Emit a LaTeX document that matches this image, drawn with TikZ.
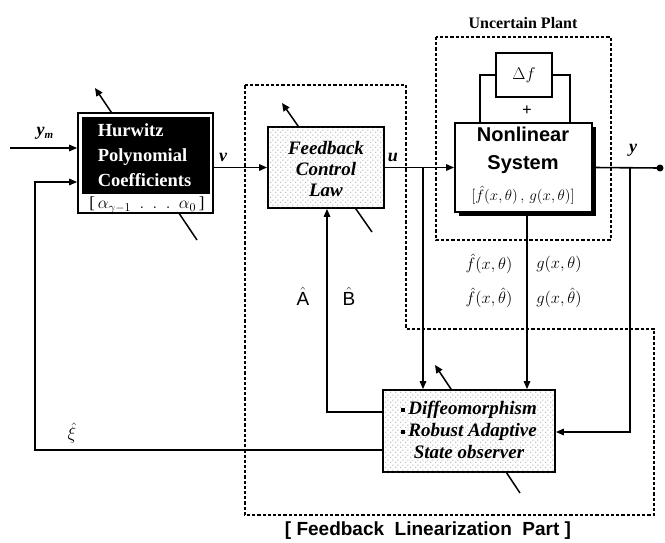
\RequirePackage{fix-cm}
\documentclass[tikz,border=0pt]{standalone}
\usepackage{fontspec}
\setmainfont{Liberation Serif}
\setsansfont{Liberation Sans}
\usetikzlibrary{arrows.meta,patterns.meta}
\tikzdeclarepattern{name=sdots, type=uncolored, bounding box={(0,0) and (5pt,5pt)}, tile size={(5pt,5pt)},
  code={\fill (1pt,1pt) circle (0.55pt); \fill (3.5pt,3.5pt) circle (0.55pt);}}
\begin{document}
\begin{tikzpicture}[x=1pt,y=-1pt,line width=1.6pt,
  arr/.style={-{Triangle[length=8pt,width=6.5pt]}},
  adj/.style={line width=1.5pt,-{Triangle[length=8pt,width=7pt]}},
  blk/.style={draw,line width=1.8pt,rectangle,inner sep=0pt},
  dotted box/.style={blk,fill=white,postaction={pattern=sdots,pattern color=black!70}},
  dashbox/.style={line width=1.4pt,dash pattern=on 3.2pt off 2pt},
  lab/.style={inner sep=0pt,font=\bfseries\itshape\fontsize{18}{20}\selectfont},
  ital/.style={inner sep=0pt,font=\fontsize{16.5}{18}\selectfont}]
\useasboundingbox (0,0) rectangle (665,543);

% dashed regions
\draw[dashbox] (245,85) -- (406,85) -- (406,329) -- (654,329) -- (654,515) -- (245,515) -- cycle;
\draw[dashbox] (436,37) rectangle (611,240);
\node[inner sep=0pt,font=\bfseries\fontsize{16}{18}\selectfont] (uplab) at (523,23) {Uncertain Plant};
\node[inner sep=0pt,font=\sffamily\bfseries\fontsize{19}{22}\selectfont] (fllab) at (428,531) {[ Feedback\ \ Linearization\ \ Part ]};

% adjustment arrows (behind boxes)
\draw[adj] (197,240) -- (95,88);
\draw[adj] (372,232) -- (282,103);
\draw[adj] (520,493) -- (435,365);

% Hurwitz block
\node[blk,fill=white,minimum width=135pt,minimum height=100pt] (hur) at (145.5,163) {};
\fill (82,117) rectangle (210,194);
\node[inner sep=0pt,text=white,align=left,anchor=west,font=\bfseries\fontsize{18.5}{25}\selectfont] (hurtxt) at (97,155) {Hurwitz\\Polynomial\\Coefficients};
\node[inner sep=0pt,font=\fontsize{17}{18}\selectfont] (alpha) at (147,205) {[\,$\alpha_{\gamma-1}\ \ .\ \ .\ \ .\ \ \alpha_0$\,]};

% Feedback control law
\node[dotted box,minimum width=116pt,minimum height=81pt] (fb) at (326,167.5) {};
\node[inner sep=0pt,align=center,font=\bfseries\itshape\fontsize{19}{21}\selectfont] (fbtxt) at (326,169) {Feedback\\Control\\Law};

% Nonlinear system with shadow
\fill (459,127) rectangle (596,216);
\node[blk,fill=white,minimum width=137pt,minimum height=89pt] (nl) at (523.5,167.5) {};
\node[inner sep=0pt,font=\sffamily\bfseries\fontsize{20}{22}\selectfont] (nl1) at (523,134) {Nonlinear};
\node[inner sep=0pt,font=\sffamily\bfseries\fontsize{20}{22}\selectfont] (nl2) at (523,165) {System};
\node[inner sep=0pt,font=\fontsize{15}{18}\selectfont] (nl3) at (523,195) {$[\hat f(x,\theta)\,,\,g(x,\theta)]$};

% Delta f
\node[blk,fill=white,minimum width=56pt,minimum height=44pt,font=\fontsize{17}{20}\selectfont] (df) at (524,75) {$\Delta f$};
\node[inner sep=0pt,font=\bfseries\fontsize{17}{18}\selectfont] (plus) at (527,111) {+};
\coordinate (l1) at (480,75);
\coordinate (l2) at (570,75);
\draw (nl.north -| l1) -- (l1) -- (df.west);
\draw (df.east) -- (l2) -- (l2 |- nl.north);

% Observer
\node[dotted box,minimum width=172pt,minimum height=82pt] (obs) at (469,431) {};
\node[inner sep=0pt,align=center,font=\bfseries\itshape\fontsize{19}{22}\selectfont] (obstxt) at (469,430)
  {\rule[0.3ex]{4pt}{4pt}\,Diffeomorphism\\\rule[0.3ex]{4pt}{4pt}\,Robust Adaptive\\State observer};

% signals
\coordinate (ymin) at (10,148);
\draw[arr] (ymin) -- (ymin -| hur.west);
\node[lab] (ymlab) at (45,133) {y\raisebox{-0.35ex}{\fontsize{11}{12}\selectfont m}};

\coordinate (c1) at (35,450);
\coordinate (c2) at (35,182);
\draw[arr] (obs.west |- c1) -- (c1) -- (c2) -- (c2 -| hur.west);
\node[inner sep=0pt,font=\fontsize{18}{20}\selectfont] (xilab) at (72,433) {$\hat\xi$};

\draw[arr] (hur.east |- fb.west) -- (fb.west);
\node[lab] (vlab) at (223,157) {v};

\draw[arr] (fb.east) -- (nl.west);
\node[lab] (ulab) at (393,157) {u};
\coordinate (ub) at (423,168);
\draw[arr] (ub) -- (ub |- obs.north);

\coordinate (nb) at (527,212);
\draw[arr] (nb) -- (nb |- obs.north);

\coordinate (yend) at (660,168);
\draw (nl.east) -- (yend);
\fill (yend) circle (3.5);
\node[lab] (ylab) at (633,150) {y};
\coordinate (yb) at (630,168);
\coordinate (yc) at (630,432);
\draw[arr] (yb) -- (yc) -- (yc -| obs.east);

\coordinate (ab) at (327,412);
\draw[arr] (obs.west |- ab) -- (ab) -- (ab |- fb.south);
\node[inner sep=0pt,font=\fontsize{19}{20}\selectfont] (alab) at (303,296) {$\hat{\textsf{A}}$};
\node[inner sep=0pt,font=\fontsize{19}{20}\selectfont] (blab) at (349,296) {$\hat{\textsf{B}}$};

% function labels
\node[ital] (f1) at (489,264) {$\hat f(x,\theta)$};
\node[ital] (g1) at (559,264) {$g(x,\theta)$};
\node[ital] (f2) at (489,298) {$\hat f(x,\hat\theta)$};
\node[ital] (g2) at (559,298) {$g(x,\hat\theta)$};
\end{tikzpicture}
\end{document}
